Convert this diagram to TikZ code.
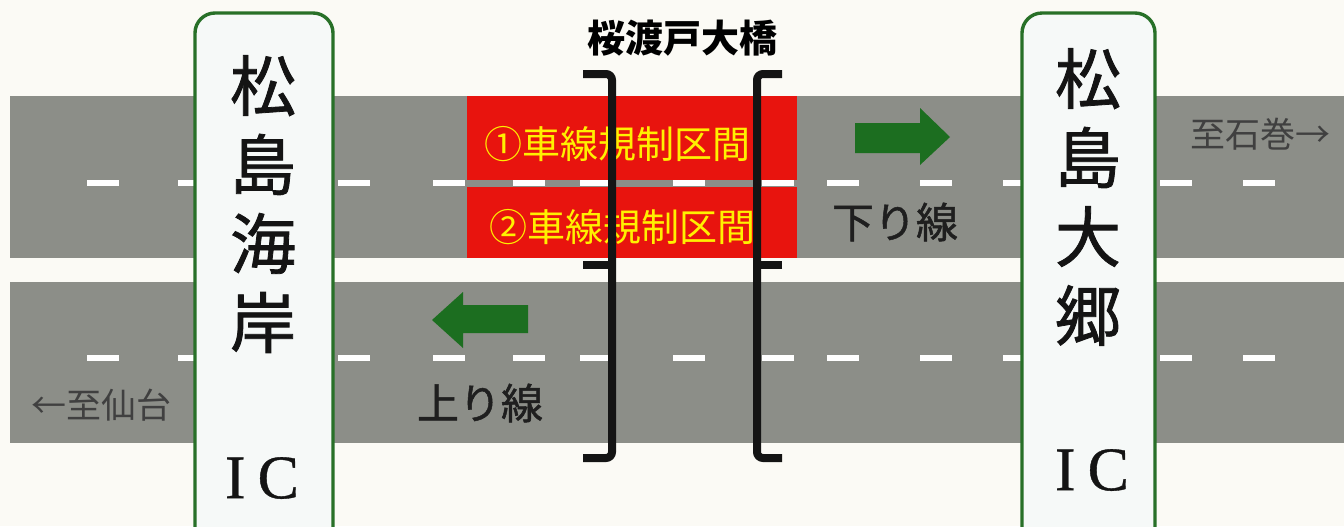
\documentclass[tikz,border=0pt]{standalone}
\usepackage{fontspec}
\setmainfont{Noto Sans CJK JP}
\newfontfamily\heavyfont[FakeBold=1.2]{Noto Sans CJK JP}
\newfontfamily\icfont[FakeBold=0.6]{Liberation Serif}
\usetikzlibrary{positioning}
\definecolor{paper}{RGB}{251,250,245}
\definecolor{road}{RGB}{140,142,136}
\definecolor{closed}{RGB}{232,20,14}
\definecolor{closedtext}{RGB}{255,240,0}
\definecolor{flow}{RGB}{28,110,32}
\definecolor{signline}{RGB}{40,112,40}
\definecolor{signfill}{RGB}{246,249,248}

\begin{document}
\begin{tikzpicture}[x=0.5pt,y=-0.5pt,
  lane/.style={fill=road},
  dashmark/.style={fill=white},
  arrowfill/.style={fill=flow},
  bracketline/.style={draw=black!92, line width=4pt, rounded corners=3pt},
  signbox/.style={draw=signline, line width=1.7pt, fill=signfill, rounded corners=10pt},
  signtext/.style={align=center, text=black!92, inner sep=0pt, font=\heavyfont\fontsize{33}{39.5}\selectfont},
  ictext/.style={text=black!92, inner sep=0pt, font=\icfont\fontsize{31}{31}\selectfont},
  sectiontext/.style={text=closedtext, inner sep=0pt, font=\fontsize{19}{19}\selectfont},
  dirtext/.style={text=black!88, inner sep=0pt, font=\heavyfont\fontsize{21}{21}\selectfont},
  totext/.style={text=black!75, inner sep=0pt, font=\fontsize{17.5}{17.5}\selectfont}]
  \useasboundingbox (0,0) rectangle (1344,526);
  \clip (0,0) rectangle (1344,526);
  \fill[paper] (0,0) rectangle (1344,526);

  % roads
  \fill[lane] (10,96) rectangle (1344,258);
  \fill[lane] (10,282) rectangle (1344,443);
  \fill[closed] (467,96) rectangle (797,180);
  \fill[closed] (467,187) rectangle (797,258);
  \foreach \dx in {87,178,338,433,513,580,673,762,827,920,1003,1160,1243} {
    \fill[dashmark] (\dx,180) rectangle ++(32,6);
    \fill[dashmark] (\dx,355) rectangle ++(32,6);
  }

  % traffic direction
  \fill[arrowfill] (855,123) -- (920,123) -- (920,108) -- (950,137) -- (920,165) -- (920,153) -- (855,153) -- cycle;
  \fill[arrowfill] (528,305) -- (463,305) -- (463,292) -- (432,320) -- (463,348) -- (463,333) -- (528,333) -- cycle;

  \node[sectiontext] (lane1) at (617,144) {①車線規制区間};
  \node[sectiontext] (lane2) at (622,227) {②車線規制区間};
  \node[dirtext] (down) at (895,222) {下り線};
  \node[dirtext] (up) at (480,403) {上り線};
  \node[totext] (ishinomaki) at (1260,134) {至石巻→};
  \node[totext] (sendai) at (102,405) {←至仙台};

  % bridge
  \draw[bracketline] (583,74) -- (612,74) -- (612,458) -- (583,458);
  \draw[bracketline] (583,265) -- (612,265);
  \draw[bracketline] (782,74) -- (757,74) -- (757,458) -- (782,458);
  \draw[bracketline] (782,265) -- (757,265);
  \node[inner sep=0pt, font=\bfseries\fontsize{19}{19}\selectfont] (bridge) at (682,38) {桜渡戸大橋};

  % interchanges
  \draw[signbox] (195,13) rectangle (333,560);
  \draw[signbox] (1022,13) rectangle (1155,560);
  \node[signtext] (kaigan) at (263,204) {松\\島\\海\\岸};
  \node[ictext] (kaiganic) at (262,478) {I\hspace{6pt}C};
  \node[signtext] (daigo) at (1088,197) {松\\島\\大\\郷};
  \node[ictext] (daigoic) at (1092,470) {I\hspace{6pt}C};
\end{tikzpicture}
\end{document}
